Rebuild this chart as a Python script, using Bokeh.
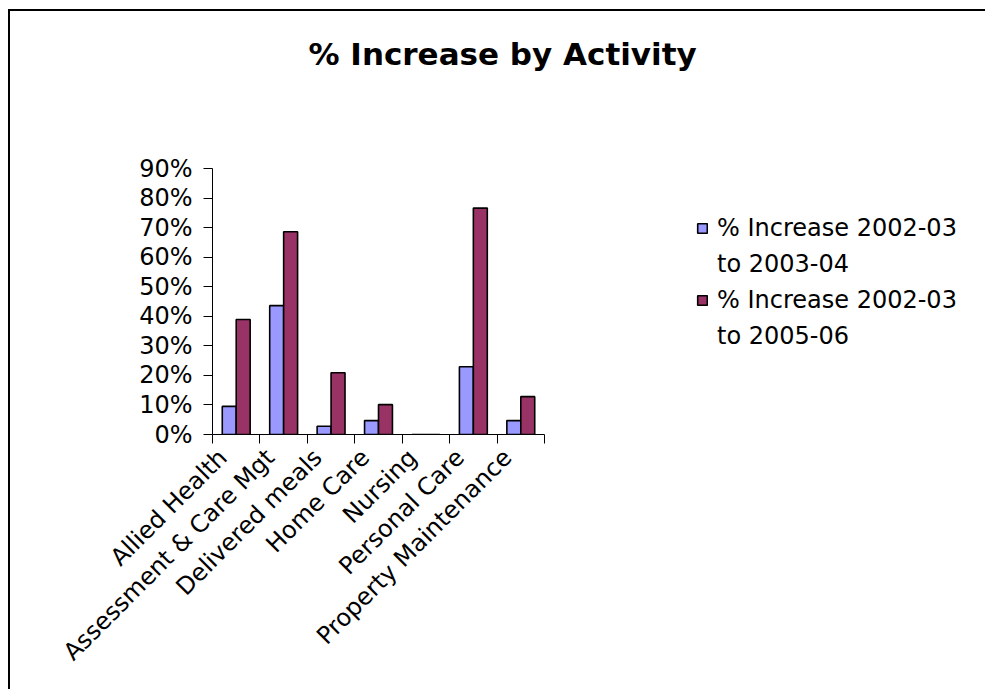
import math
import numpy as np
from bokeh.plotting import figure
from bokeh.models import (ColumnDataSource, Range1d, FixedTicker, NumeralTickFormatter,
                          Legend, LegendItem, Title)
from bokeh.core.properties import value
from bokeh.embed import file_html
from bokeh.resources import INLINE

# ---- data ----
categories = ["Allied Health", "Assessment & Care Mgt", "Delivered meals", "Home Care",
              "Nursing", "Personal Care", "Property Maintenance"]
inc_2003_04 = [0.095, 0.436, 0.028, 0.047, 0.0, 0.229, 0.047]
inc_2005_06 = [0.389, 0.686, 0.209, 0.101, 0.0, 0.766, 0.128]
series_names = ["% Increase 2002-03 to 2003-04", "% Increase 2002-03 to 2005-06"]
y_ticks = [0.0, 0.1, 0.2, 0.3, 0.4, 0.5, 0.6, 0.7, 0.8, 0.9]
title_text = "% Increase by Activity"

colors = ["#9999FF", "#993366"]
FONT = "DejaVu Sans"

n = len(categories)
centers = np.arange(n) + 0.5
bar_w = 0.294
label_shift = 0.28
src = ColumnDataSource(dict(x1=centers - bar_w / 2, x2=centers + bar_w / 2,
                            a=inc_2003_04, b=inc_2005_06))

p = figure(frame_width=332, frame_height=266,
           min_border_left=202, min_border_right=441, min_border_top=157, min_border_bottom=255,
           x_range=Range1d(0, n), y_range=Range1d(0, y_ticks[-1]),
           output_backend="svg", toolbar_location=None,
           styles={"margin-left": "8px", "margin-top": "9px",
                   "border-left": "2px solid #000", "border-top": "2px solid #000"})
p.outline_line_color = None
p.grid.visible = False
p.background_fill_color = "white"
p.border_fill_color = "white"

# title (with an empty spacer panel between it and the plot area)
p.title.text = title_text
p.title.align = "left"
p.title.offset = 96
p.title.vertical_align = "top"
p.title.standoff = 0
p.title.text_font = FONT
p.title.text_font_style = "bold"
p.title.text_font_size = "31px"
p.title.text_color = "black"
p.add_layout(Title(text=" ", text_font_size="10px", standoff=82), "above")

r1 = p.vbar(x="x1", width=bar_w, bottom=0, top="a", source=src,
            fill_color=colors[0], line_color="black", line_width=1.6)
r2 = p.vbar(x="x2", width=bar_w, bottom=0, top="b", source=src,
            fill_color=colors[1], line_color="black", line_width=1.6)

# x axis: ticks at category boundaries, labels near centers
xa = p.xaxis[0]
label_pos = [float(c - label_shift) for c in centers]
xa.ticker = FixedTicker(ticks=label_pos, minor_ticks=list(range(n + 1)))
xa.major_label_overrides = {lp: cat for lp, cat in zip(label_pos, categories)}
xa.major_tick_line_color = None
xa.major_tick_out = 9
xa.major_tick_in = 0
xa.minor_tick_line_color = "black"
xa.minor_tick_out = 9
xa.minor_tick_in = 0
xa.axis_line_color = "black"
xa.major_label_orientation = math.pi / 4
xa.major_label_text_font = FONT
xa.major_label_text_font_size = "24px"
xa.major_label_text_color = "black"
xa.major_label_standoff = 10

ya = p.yaxis[0]
ya.ticker = FixedTicker(ticks=y_ticks)
ya.formatter = NumeralTickFormatter(format="0%")
ya.major_tick_out = 9
ya.major_tick_in = 0
ya.minor_tick_line_color = None
ya.axis_line_color = "black"
ya.major_label_text_font = FONT
ya.major_label_text_font_size = "24px"
ya.major_label_text_color = "black"
ya.major_label_standoff = 11

# legend: each series name wrapped on two lines
items = []
for name, r in zip(series_names, [r1, r2]):
    i = name.index(" to ")
    items.append(LegendItem(label=value(name[:i]), renderers=[r]))
    items.append(LegendItem(label=value(name[i + 1:]), renderers=[]))
lg = Legend(items=items, location=(152, 81), padding=0, margin=0, spacing=2,
            label_height=34, glyph_height=12, glyph_width=12, label_standoff=9,
            border_line_color=None, background_fill_alpha=0,
            label_text_font=FONT, label_text_font_size="24px", label_text_color="black")
p.add_layout(lg, "right")

open("out.html", "w").write(file_html(p, INLINE))
